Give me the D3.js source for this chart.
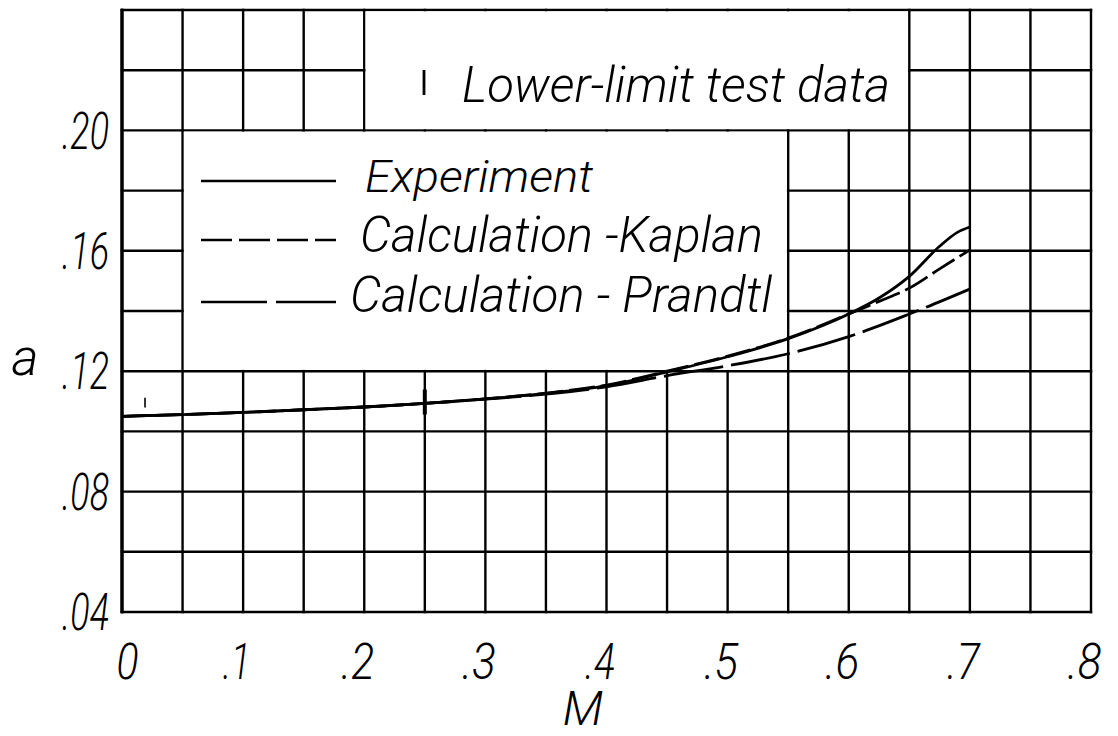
<!DOCTYPE html>
<html>
<head>
<meta charset="utf-8">
<script src="https://cdn.jsdelivr.net/npm/d3@7/dist/d3.min.js"></script>
<style>
  html, body { margin: 0; padding: 0; background: #fff; }
  svg { display: block; }
  .lbl { font-family: Roboto, "Open Sans", "DejaVu Sans", sans-serif; font-weight: 300; font-style: italic; fill: #000; }
</style>
</head>
<body>
<svg id="chart" width="1118" height="736"></svg>
<script>
// ---- data ----
const xTicks = [0, 0.1, 0.2, 0.3, 0.4, 0.5, 0.6, 0.7, 0.8];
const xTickLabels = ["0", ".1", ".2", ".3", ".4", ".5", ".6", ".7", ".8"];
const yTicks = [0.04, 0.08, 0.12, 0.16, 0.20];
const yTickLabels = [".04", ".08", ".12", ".16", ".20"];

const mExperiment = [0, 0.05, 0.1, 0.15, 0.2, 0.25, 0.3, 0.35, 0.4, 0.45, 0.5, 0.55, 0.6, 0.625, 0.65, 0.675, 0.69, 0.7];
const aExperiment = [0.105, 0.1056, 0.1063, 0.1072, 0.1081, 0.1093, 0.1108, 0.1126, 0.1152, 0.1198, 0.1248, 0.1308, 0.1390, 0.1443, 0.1515, 0.1615, 0.1662, 0.1679];

const mKaplan = [0, 0.05, 0.1, 0.15, 0.2, 0.25, 0.3, 0.35, 0.4, 0.45, 0.5, 0.55, 0.6, 0.625, 0.65, 0.675, 0.7];
const aKaplan = [0.105, 0.1056, 0.1063, 0.1072, 0.1081, 0.1093, 0.1108, 0.1127, 0.1154, 0.1200, 0.1250, 0.1310, 0.1390, 0.1432, 0.1476, 0.1540, 0.1603];

const mPrandtl = [0, 0.05, 0.1, 0.15, 0.2, 0.25, 0.3, 0.35, 0.4, 0.45, 0.5, 0.55, 0.6, 0.65, 0.7];
const aPrandtl = [0.105, 0.1056, 0.1063, 0.1072, 0.1081, 0.1093, 0.1107, 0.1124, 0.1148, 0.1185, 0.1218, 0.1258, 0.1315, 0.1390, 0.1473];

// lower-limit test data (M, a low, a high)
const testM = [0.019, 0.25];
const testLo = [0.1079, 0.1056];
const testHi = [0.1112, 0.1139];

const legendNames = ["Experiment", "Calculation -Kaplan", "Calculation - Prandtl"];
const testLegend = "Lower-limit test data";

// ---- layout ----
const svg = d3.select("#chart");
const x = d3.scaleLinear().domain([0, 0.8]).range([122, 1091]);
const y = d3.scaleLinear().domain([0.04, 0.24]).range([612, 10]);
const ink = "#000";

// grid
const gridX = d3.range(0, 0.8001, 0.05);
const gridY = d3.range(0.04, 0.2401, 0.02);
const g = svg.append("g");
g.selectAll(".vx").data(gridX).join("line")
  .attr("x1", d => x(d)).attr("x2", d => x(d))
  .attr("y1", y(0.04) + 1.2).attr("y2", y(0.24) - 1.2)
  .attr("stroke", ink).attr("stroke-width", 2.4);
g.selectAll(".hy").data(gridY).join("line")
  .attr("x1", x(0) - 1.2).attr("x2", x(0.8) + 1.2)
  .attr("y1", d => y(d)).attr("y2", d => y(d))
  .attr("stroke", ink).attr("stroke-width", 2.4);
// heavier left axis
g.append("line").attr("x1", x(0)).attr("x2", x(0)).attr("y1", y(0.04) + 1.2).attr("y2", y(0.24) - 1.2)
  .attr("stroke", ink).attr("stroke-width", 3.4);

// legend boxes (blank grid regions)
const boxes = [
  { x0: 0.2, x1: 0.65, y0: 0.20, y1: 0.24 },
  { x0: 0.05, x1: 0.55, y0: 0.12, y1: 0.20 }
];
g.selectAll(".box").data(boxes).join("rect")
  .attr("x", d => x(d.x0) + 1.3).attr("y", d => y(d.y1) + 1.3)
  .attr("width", d => x(d.x1) - x(d.x0) - 2.6).attr("height", d => y(d.y0) - y(d.y1) - 2.6)
  .attr("fill", "#fff");

// axes labels via d3 axes
const xLabelW = [22, 28, 33, 34, 30, 34, 34, 33, 34];
const xAxis = d3.axisBottom(x).tickValues(xTicks).tickSize(0).tickPadding(0)
  .tickFormat((d, i) => xTickLabels[i]);
const gx = svg.append("g").attr("transform", `translate(0, ${y(0.04)})`).call(xAxis);
gx.select(".domain").remove();
gx.selectAll("text").attr("class", "lbl").attr("font-size", 50).attr("dy", null)
  .attr("y", 67).attr("dx", (d, i) => i === 0 ? 5 : -7).attr("text-anchor", "middle")
  .attr("textLength", (d, i) => xLabelW[i])
  .attr("lengthAdjust", "spacingAndGlyphs");

const yAxis = d3.axisLeft(y).tickValues(yTicks).tickSize(0).tickPadding(0)
  .tickFormat((d, i) => yTickLabels[i]);
const gy = svg.append("g").attr("transform", `translate(${x(0)}, 0)`).call(yAxis);
gy.select(".domain").remove();
gy.selectAll("text").attr("class", "lbl").attr("font-size", 52).attr("dy", "0.34em")
  .attr("x", -13).attr("text-anchor", "end")
  .attr("textLength", 47).attr("lengthAdjust", "spacingAndGlyphs");

// axis titles
svg.append("text").attr("class", "lbl").attr("font-size", 48)
  .attr("x", 583).attr("y", 725).attr("text-anchor", "middle").text("M");
svg.append("text").attr("class", "lbl").attr("font-size", 52)
  .attr("x", 25).attr("y", 375).attr("text-anchor", "middle").text("a");

// curves
const line = d3.line().x(d => x(d[0])).y(d => y(d[1])).curve(d3.curveMonotoneX);
const series = [
  { m: mPrandtl, a: aPrandtl, dash: "60,8" },
  { m: mKaplan, a: aKaplan, dash: "26,6" },
  { m: mExperiment, a: aExperiment, dash: null }
];
svg.selectAll(".curve").data(series).join("path")
  .attr("d", s => line(s.m.map((v, i) => [v, s.a[i]])))
  .attr("fill", "none").attr("stroke", ink).attr("stroke-width", 2.8)
  .attr("stroke-dasharray", s => s.dash);

// test data markers
svg.selectAll(".test").data(testM).join("line")
  .attr("x1", d => x(d)).attr("x2", d => x(d))
  .attr("y1", (d, i) => y(testLo[i])).attr("y2", (d, i) => y(testHi[i]))
  .attr("stroke", ink).attr("stroke-width", (d, i) => i === 0 ? 1.6 : 4);

// top legend
svg.append("line").attr("x1", 424).attr("x2", 424).attr("y1", 70).attr("y2", 95)
  .attr("stroke", ink).attr("stroke-width", 2.8);
svg.append("text").attr("class", "lbl").attr("font-size", 49)
  .attr("x", 462).attr("y", 102).attr("textLength", 428).attr("lengthAdjust", "spacingAndGlyphs")
  .text(testLegend);

// series legend
const legY = [181, 240, 302];
const legDash = [null, "31,7", "66,9"];
const legText = [
  { x: 365, y: 192, w: 228, fs: 44 },
  { x: 360, y: 252, w: 403, fs: 49 },
  { x: 350, y: 312, w: 422, fs: 49 }
];
legendNames.forEach((name, i) => {
  svg.append("line").attr("x1", 201).attr("x2", 336).attr("y1", legY[i]).attr("y2", legY[i])
    .attr("stroke", ink).attr("stroke-width", 2.4).attr("stroke-dasharray", legDash[i]);
  svg.append("text").attr("class", "lbl").attr("font-size", legText[i].fs)
    .attr("x", legText[i].x).attr("y", legText[i].y)
    .attr("textLength", legText[i].w).attr("lengthAdjust", "spacingAndGlyphs")
    .text(name);
});
</script>
</body>
</html>
